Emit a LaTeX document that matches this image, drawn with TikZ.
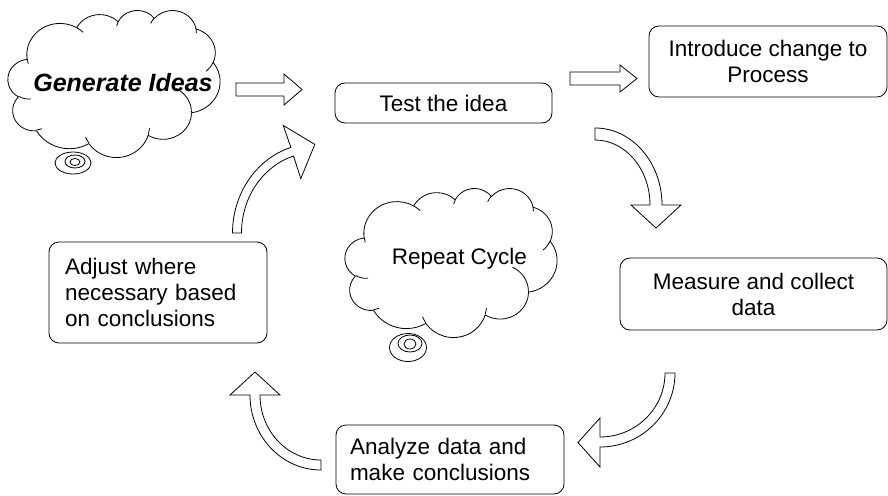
\documentclass[tikz,border=0pt]{standalone}
\usepackage{fontspec}
\setmainfont{Liberation Sans}
\begin{document}
% arc in the manner of a DrawingML arcTo: radii, start angle, sweep (degrees, visual angles)
\newcommand\ooarc[4]{%
 \pgfextra{%
  \pgfmathsetmacro\ooA{atan2((#1)*sin(#3),(#2)*cos(#3))}%
  \pgfmathsetmacro\ooB{atan2((#1)*sin((#3)+(#4)),(#2)*cos((#3)+(#4)))}%
  \pgfmathsetmacro\ooD{mod(\ooB-\ooA+720,360)}%
 }%
 arc[start angle=\ooA, delta angle=\ooD, x radius=#1, y radius=#2]}
\newcommand\cloudoutline{%
 (390,1437)
 \ooarc{675.3}{919.0}{-190.4875}{123.7805}
 \ooarc{533.3}{726.7}{-144.1024}{89.9452}
 \ooarc{436.5}{594.5}{-145.8079}{99.7230}
 \ooarc{485.7}{659.5}{-130.9861}{117.2417}
 \ooarc{533.3}{727.3}{-78.7089}{109.0269}
 \ooarc{677.5}{922.0}{-46.2673}{130.2690}
 \ooarc{578.5}{786.7}{0.6250}{114.0333}
 \ooarc{675.2}{921.5}{22.4516}{115.1726}
 \ooarc{772.0}{1054.3}{66.2426}{75.7110}
 \ooarc{436.0}{591.8}{-274.9421}{146.7356}
 \ooarc{434.5}{594.5}{-246.8285}{152.5189}
 -- cycle}
\newcommand\cloudcreases{%
 (469.3,2617.7) \ooarc{434.5}{594.5}{86.7420}{26.4295}
 (692.8,3489.9) \ooarc{436.0}{591.8}{73.6105}{11.4475}
 (1647.8,3909.0) \ooarc{675.2}{921.5}{137.6242}{14.0811}
 (2882.7,3475.1) \ooarc{675.2}{921.5}{6.4533}{15.9984}
 (3412.9,2295.4) \ooarc{578.5}{786.7}{-70.2924}{70.9174}
 (4179.8,1535.4) \ooarc{533.3}{727.3}{30.3180}{27.7515}
 (3832.4,542.6) \ooarc{485.7}{659.5}{-13.7443}{14.8589}
 (2907.8,395.2) \ooarc{485.7}{659.5}{-149.1815}{18.1954}
 (2214.1,472.0) \ooarc{436.5}{594.5}{-163.4943}{17.6864}
 (1400.0,519.2) \ooarc{675.3}{919.0}{-66.7070}{12.3194}
 (412.7,1578.9) \ooarc{675.3}{919.0}{157.6544}{11.8582}}
\begin{tikzpicture}[x=1pt,y=1pt, line width=0.8pt,
  box/.style={draw, rounded corners=10pt, inner sep=0pt, font=\fontsize{22.5}{26}\selectfont},
  blockarrow/.style={draw, fill=white, line join=miter},
  cloudline/.style={draw, line join=round},
  bubble/.style={draw, fill=white}]
\useasboundingbox (0,0) rectangle (888,-495);

% clouds
\begin{scope}[shift={(8,-10)}, x=0.049074pt, y=-0.034028pt]
  \path[cloudline] \cloudoutline;
  \path[cloudline] \cloudcreases;
\end{scope}
\begin{scope}[shift={(345,-188)}, x=0.049074pt, y=-0.034491pt]
  \path[cloudline] \cloudoutline;
  \path[cloudline] \cloudcreases;
\end{scope}
\node[font=\fontsize{25}{30}\selectfont\bfseries\itshape, anchor=base] (gentext) at (123,-91) {Generate Ideas};
\node[font=\fontsize{22.5}{26}\selectfont, anchor=base] (reptext) at (459.5,-264) {Repeat Cycle};

% thought bubbles
\draw[bubble] (73,-163) ellipse[x radius=18, y radius=11];
\draw[bubble] (75,-161.5) ellipse[x radius=10, y radius=6.5];
\draw[bubble] (75,-162) ellipse[x radius=5, y radius=3.5];
\draw[bubble] (408,-347.5) ellipse[x radius=18.5, y radius=14];
\draw[bubble] (410,-343.5) ellipse[x radius=12, y radius=8.5];
\draw[bubble] (410,-344) ellipse[x radius=6, y radius=5];

% boxes
\node[box, minimum width=217pt, minimum height=40pt] (test) at (443.5,-103) {Test the idea};
\node[box, minimum width=238pt, minimum height=71pt, align=center] (intro) at (768,-61.5) {Introduce change to\\Process};
\node[box, minimum width=267pt, minimum height=72pt, align=center] (measure) at (753.5,-294) {Measure and collect\\data};
\node[box, minimum width=228pt, minimum height=69pt, text width=200pt, align=left] (analyze) at (450,-459.5) {Analyze data and\\make conclusions};
\node[box, minimum width=218pt, minimum height=101pt, text width=186pt, align=left] (adjust) at (158,-292.5) {Adjust where\\necessary based\\on conclusions};

% straight block arrows
\draw[blockarrow] (236,-83) -- (284,-83) -- (284,-74) -- (302,-89.5) -- (284,-105) -- (284,-96) -- (236,-96) -- cycle;
\draw[blockarrow] (570,-72) -- (620,-72) -- (620,-65) -- (637,-78.5) -- (620,-92) -- (620,-85) -- (570,-85) -- cycle;

% curved block arrows
\draw[blockarrow] (595,-128) arc[start angle=90, end angle=0, x radius=67, y radius=77] -- (681,-205) -- (656,-228) -- (631,-205) -- (650,-205) arc[start angle=0, end angle=90, x radius=55, y radius=65] -- cycle;
\draw[blockarrow] (675,-373) arc[start angle=0, end angle=-90, x radius=75, y radius=74] -- (600,-467) -- (578,-442.5) -- (600,-418) -- (600,-437) arc[start angle=-90, end angle=0, x radius=65, y radius=64] -- cycle;
\draw[blockarrow] (321,-470) arc[start angle=-90, end angle=-180, x radius=71, y radius=75] -- (230,-395) -- (255,-372) -- (280,-395) -- (260,-395) arc[start angle=-180, end angle=-90, x radius=61, y radius=65] -- cycle;
\draw[blockarrow] (232.5,-233) arc[start angle=180, end angle=107, x radius=82.5, y radius=89.5] -- (283.2,-125.4) -- (314.8,-144.4) -- (300.8,-178.6) -- (293.5,-156) arc[start angle=107, end angle=180, x radius=73.5, y radius=80.5] -- cycle;
\end{tikzpicture}
\end{document}
